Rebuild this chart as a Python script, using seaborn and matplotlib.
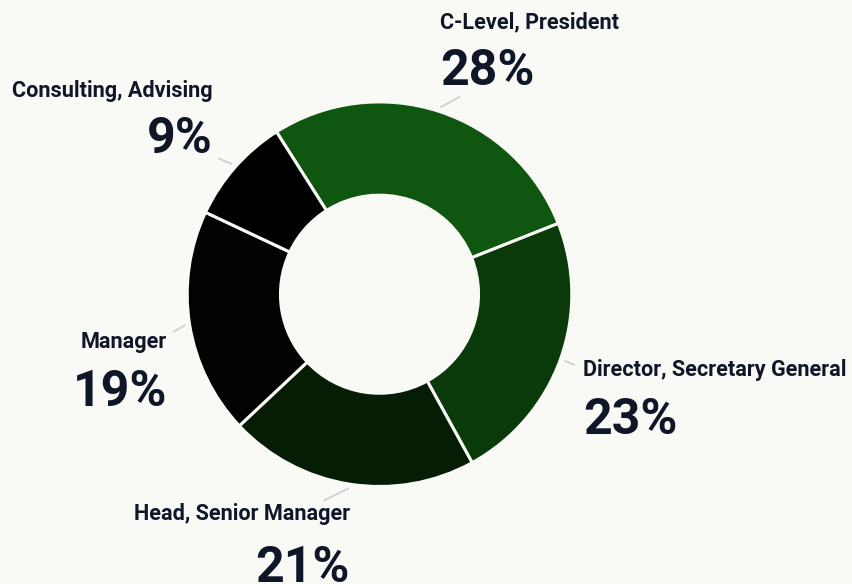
import numpy as np
import matplotlib
matplotlib.use("Agg")
import matplotlib.pyplot as plt
import seaborn as sns

# ---- data ----
categories = ["C-Level, President", "Director, Secretary General",
              "Head, Senior Manager", "Manager", "Consulting, Advising"]
shares = [28, 23, 21, 19, 9]
colors = ["#0f5710", "#0a3a0a", "#051c05", "#010301", "#000000"]

# ---- style ----
sns.set_theme(style="white")
plt.rcParams["font.family"] = ["Roboto", "DejaVu Sans"]
BG = "#f9f9f6"
TXT = "#0e1628"

W, H, DPI = 853, 584, 100
CX, CY, R = 379.5, 294.2, 192.3  # donut centre / radius in pixels

fig = plt.figure(figsize=(W / DPI, H / DPI), dpi=DPI, facecolor=BG)
ax = fig.add_axes([0, 0, 1, 1])
ax.set_facecolor(BG)

start = 90 + shares[-1] / sum(shares) * 360
wedges, _ = ax.pie(shares, colors=colors, startangle=start, counterclock=False,
                   radius=1.0, center=(0, 0), frame=True,
                   wedgeprops=dict(width=0.485, edgecolor=BG, linewidth=2.2))
ax.set_xlim(-CX / R, (W - CX) / R)
ax.set_ylim(-(H - CY) / R, CY / R)
ax.set_axis_off()


def px(x, y):
    return (x - CX) / R, (CY - y) / R


# label layout: (anchor x px, name baseline y px, pct baseline y px, ha,
#                leader direction deg, leader length px)
layout = [
    (440, 28.3, 85, "left", 28, 22.5),
    (583, 375.7, 434, "left", -22, 11),
    (350, 520, 582, "right", 206, 28),
    (167, 348.3, 406, "right", 210, 14),
    (213, 97, 153.3, "right", 157, 15),
]

for w, cat, val, (lx, ny, py, ha, ldir, llen) in zip(wedges, categories, shares, layout):
    mid = np.deg2rad((w.theta1 + w.theta2) / 2)
    x0, y0 = 1.022 * np.cos(mid), 1.022 * np.sin(mid)
    d = np.deg2rad(ldir)
    x1, y1 = x0 + llen / R * np.cos(d), y0 + llen / R * np.sin(d)
    ax.plot([x0, x1], [y0, y1], color="#cfcfcf", lw=1.3, solid_capstyle="butt")
    x, y = px(lx, ny)
    ax.text(x, y, cat, ha=ha, va="baseline", fontsize=15.6,
            fontweight="bold", color=TXT)
    x, y = px(lx, py)
    ax.text(x, y, f"{val}%", ha=ha, va="baseline", fontsize=36,
            fontweight="bold", color=TXT)

fig.savefig("out.png", dpi=DPI, facecolor=BG)
